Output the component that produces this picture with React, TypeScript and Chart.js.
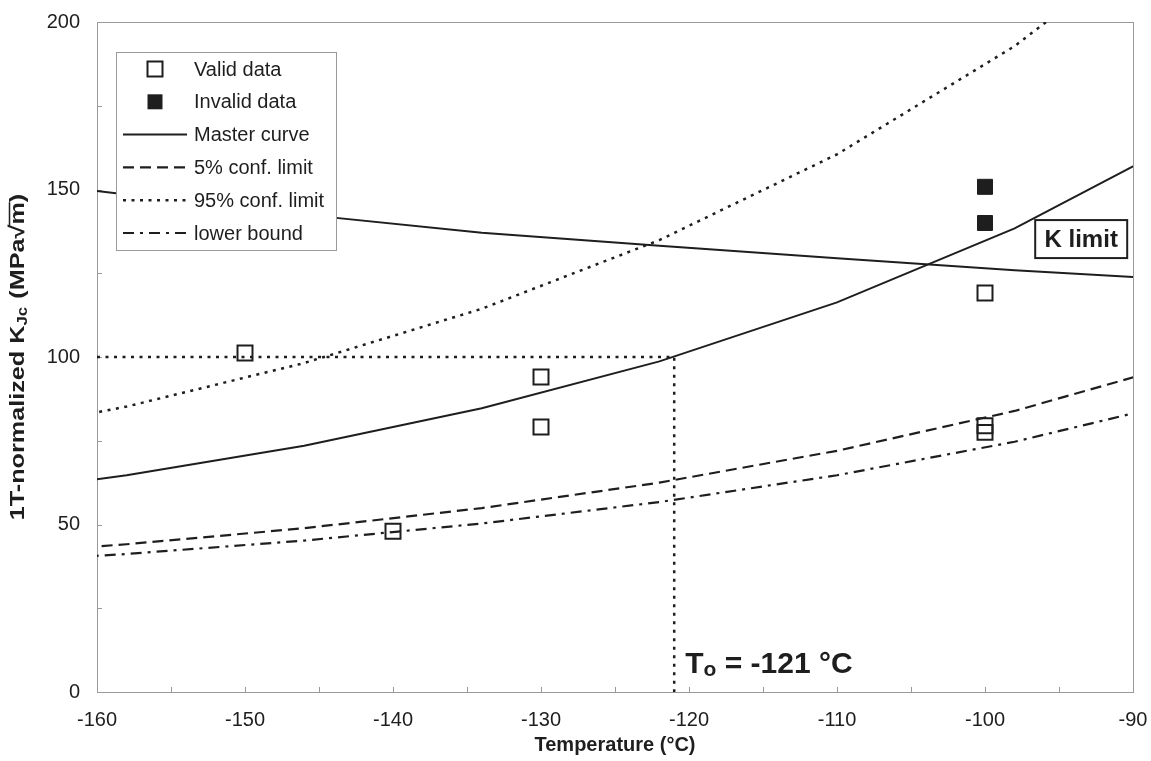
import React, { useEffect, useRef } from 'react';
import { Chart, registerables } from 'chart.js';

Chart.register(...registerables);

// ---- data ----
const curveTemps = [-170, -158, -146, -134, -122, -110, -98, -86];
const masterCurve = [57.6, 64.7, 73.5, 84.7, 98.7, 116.3, 138.4, 166.1];
const conf5 = [40.3, 44.1, 48.9, 54.9, 62.5, 72.0, 83.9, 98.9];
const conf95 = [74.9, 85.2, 98.2, 114.4, 134.9, 160.5, 192.8, 233.3];
const lowerBound = [37.9, 41.2, 45.2, 50.3, 56.7, 64.7, 74.7, 87.4];
const kLimit = [154.8, 148.5, 142.5, 137.1, 133.2, 129.5, 125.9, 122.9];

const validT = [-150, -140, -130, -130, -100, -100, -100];
const validK = [101.2, 48.0, 94.0, 79.1, 119.1, 79.5, 77.5];
const invalidT = [-100, -100];
const invalidK = [150.8, 140.0];

const T0 = -121;
const K_REF = 100;
const X_MIN = -160;
const X_MAX = -90;
const Y_MIN = 0;
const Y_MAX = 200;

const legendLabels = ['Valid data', 'Invalid data', 'Master curve', '5% conf. limit', '95% conf. limit', 'lower bound'];

const FONT = "'Liberation Sans', Arial, Helvetica, sans-serif";
const INK = '#1e1e1e';
const FRAME = '#9a9a9a';

const pts = (xs: number[], ys: number[]) => xs.map((x, i) => ({ x, y: ys[i] }));

const framePlugin = {
  id: 'frameAndTicks',
  beforeDatasetsDraw(chart: any) {
    const { ctx, chartArea: a, scales } = chart;
    const xs = scales.x;
    const ys = scales.y;
    ctx.save();
    ctx.strokeStyle = FRAME;
    ctx.lineWidth = 1;
    ctx.strokeRect(Math.round(a.left) + 0.5, Math.round(a.top) + 0.5, Math.round(a.right - a.left), Math.round(a.bottom - a.top));
    ctx.beginPath();
    for (let v = Y_MIN; v <= Y_MAX; v += 25) {
      const y = Math.round(ys.getPixelForValue(v)) + 0.5;
      ctx.moveTo(a.left, y);
      ctx.lineTo(a.left + 5, y);
    }
    for (let v = X_MIN; v <= X_MAX; v += 5) {
      const x = Math.round(xs.getPixelForValue(v)) + 0.5;
      ctx.moveTo(x, a.bottom);
      ctx.lineTo(x, a.bottom - 5);
    }
    ctx.stroke();
    ctx.restore();
  },
};

const annotationPlugin = {
  id: 'annotations',
  afterDatasetsDraw(chart: any) {
    const { ctx, chartArea: a, scales } = chart;
    const xs = scales.x;
    const ys = scales.y;
    const dsets = chart.data.datasets;
    ctx.save();

    // legend box
    const lx = a.left + 19;
    const ly = a.top + 30;
    const lw = 220;
    const lh = 198;
    ctx.fillStyle = '#ffffff';
    ctx.fillRect(lx, ly, lw, lh);
    ctx.strokeStyle = FRAME;
    ctx.lineWidth = 1;
    ctx.strokeRect(Math.round(lx) + 0.5, Math.round(ly) + 0.5, lw, lh);
    ctx.font = `20px ${FONT}`;
    ctx.textBaseline = 'middle';
    ctx.textAlign = 'left';
    for (let i = 0; i < legendLabels.length; i++) {
      const ds = dsets[i];
      const cy = ly + 17 + i * 32.8;
      const symX0 = lx + 7;
      const symX1 = lx + 71;
      const symC = lx + 39;
      ctx.save();
      if (i < 2) {
        const s = 15;
        ctx.lineWidth = 2;
        ctx.strokeStyle = INK;
        if (i === 1) {
          ctx.fillStyle = INK;
          ctx.fillRect(symC - s / 2, cy - s / 2, s, s);
        } else {
          ctx.strokeRect(symC - s / 2, cy - s / 2, s, s);
        }
      } else {
        ctx.strokeStyle = ds.borderColor;
        ctx.lineWidth = ds.borderWidth;
        ctx.setLineDash(ds.borderDash || []);
        ctx.beginPath();
        ctx.moveTo(symX0, cy);
        ctx.lineTo(symX1, cy);
        ctx.stroke();
      }
      ctx.restore();
      ctx.fillStyle = INK;
      ctx.fillText(legendLabels[i], lx + 78, cy + 1);
    }

    // K limit box
    const kx = xs.getPixelForValue(-93.5);
    const ky = ys.getPixelForValue(135.2);
    ctx.fillStyle = '#ffffff';
    ctx.fillRect(kx - 46, ky - 19, 92, 38);
    ctx.strokeStyle = INK;
    ctx.lineWidth = 2;
    ctx.strokeRect(kx - 46, ky - 19, 92, 38);
    ctx.fillStyle = INK;
    ctx.font = `bold 24px ${FONT}`;
    ctx.textAlign = 'center';
    ctx.textBaseline = 'middle';
    ctx.fillText('K limit', kx, ky + 1);

    // T0 label
    const tx = xs.getPixelForValue(T0) + 11;
    const ty = ys.getPixelForValue(5.7);
    ctx.textAlign = 'left';
    ctx.textBaseline = 'alphabetic';
    ctx.font = `bold 30px ${FONT}`;
    ctx.fillText('T', tx, ty);
    let w = ctx.measureText('T').width;
    ctx.font = `bold 21px ${FONT}`;
    ctx.fillText('o', tx + w, ty + 3);
    w += ctx.measureText('o').width;
    ctx.font = `bold 30px ${FONT}`;
    ctx.fillText(' = -121 °C', tx + w, ty);

    ctx.restore();
  },
  afterDraw(chart: any) {
    const { ctx, chartArea: a } = chart;
    ctx.save();
    ctx.translate(18, (a.top + a.bottom) / 2);
    ctx.rotate(-Math.PI / 2);
    ctx.scale(1.2, 1);
    const big = `bold 21px ${FONT}`;
    const small = `bold 14px ${FONT}`;
    const p1 = '1T-normalized K';
    const p2 = 'Jc';
    const p3 = ' (MPa√m)';
    ctx.font = big;
    const w1 = ctx.measureText(p1).width;
    const w3 = ctx.measureText(p3).width;
    const wm = ctx.measureText('m)').width;
    const wp = ctx.measureText(')').width;
    ctx.font = small;
    const w2 = ctx.measureText(p2).width + 1;
    const total = w1 + w2 + w3;
    let x = -total / 2;
    ctx.fillStyle = INK;
    ctx.textBaseline = 'middle';
    ctx.textAlign = 'left';
    ctx.font = big;
    ctx.fillText(p1, x, 0);
    x += w1;
    ctx.font = small;
    ctx.fillText(p2, x, 5);
    x += w2;
    ctx.font = big;
    ctx.fillText(p3, x, 0);
    // overline of the root sign over m
    const mStart = x + w3 - wm;
    const mEnd = x + w3 - wp;
    ctx.strokeStyle = INK;
    ctx.lineWidth = 1.5;
    ctx.beginPath();
    ctx.moveTo(mStart - 1, -8.5);
    ctx.lineTo(mEnd, -8.5);
    ctx.stroke();
    ctx.restore();
  },
};

export default function App() {
  const ref = useRef<HTMLCanvasElement>(null);

  useEffect(() => {
    const canvas = ref.current;
    if (!canvas) return;
    Chart.defaults.font.family = FONT;
    Chart.defaults.color = INK;

    const lineDs = (label: string, ys: number[], dash: number[], width: number) => ({
      label,
      data: pts(curveTemps, ys),
      showLine: true,
      borderColor: INK,
      backgroundColor: INK,
      borderWidth: width,
      borderDash: dash,
      pointRadius: 0,
      pointHoverRadius: 0,
      clip: 0,
      order: 5,
    });

    const chart = new Chart(canvas, {
      type: 'scatter',
      data: {
        datasets: [
          {
            label: 'Valid data',
            data: pts(validT, validK),
            pointStyle: 'rect',
            pointRadius: 10.6,
            pointBorderWidth: 2,
            borderColor: INK,
            backgroundColor: 'rgba(0,0,0,0)',
            showLine: false,
            order: 0,
          },
          {
            label: 'Invalid data',
            data: pts(invalidT, invalidK),
            pointStyle: 'rect',
            pointRadius: 10.6,
            pointBorderWidth: 1,
            borderColor: INK,
            backgroundColor: INK,
            showLine: false,
            order: 0,
          },
          lineDs('Master curve', masterCurve, [], 2),
          lineDs('5% conf. limit', conf5, [11, 6], 2.2),
          lineDs('95% conf. limit', conf95, [3, 5.5], 2.5),
          lineDs('lower bound', lowerBound, [11, 6, 3, 6], 2.2),
          lineDs('K limit', kLimit, [], 2),
          {
            label: 'T0 reference',
            data: [
              { x: X_MIN, y: K_REF },
              { x: T0, y: K_REF },
              { x: T0, y: Y_MIN },
            ],
            showLine: true,
            borderColor: INK,
            borderWidth: 2.5,
            borderDash: [3, 5.5],
            pointRadius: 0,
            pointHoverRadius: 0,
            clip: 0,
            order: 6,
          },
        ],
      },
      options: {
        responsive: false,
        devicePixelRatio: 1,
        animation: false,
        events: [],
        layout: { padding: { top: 22, right: 18, left: 0, bottom: 0 } },
        plugins: {
          legend: { display: false },
          tooltip: { enabled: false },
        },
        scales: {
          x: {
            type: 'linear',
            min: X_MIN,
            max: X_MAX,
            grid: { display: false, drawTicks: false },
            border: { display: false },
            ticks: { stepSize: 10, padding: 16, font: { size: 20 }, color: INK },
            title: {
              display: true,
              text: 'Temperature (°C)',
              font: { size: 20, weight: 'bold' },
              color: INK,
              padding: { top: 0, bottom: 4 },
            },
            afterFit: (s: any) => {
              s.height = 69;
              s.paddingLeft = 0;
              s.paddingRight = 0;
            },
          },
          y: {
            type: 'linear',
            min: Y_MIN,
            max: Y_MAX,
            grid: { display: false, drawTicks: false },
            border: { display: false },
            ticks: { stepSize: 50, padding: 17, font: { size: 20 }, color: INK },
            afterFit: (s: any) => {
              s.width = 97;
              s.paddingTop = 0;
              s.paddingBottom = 0;
            },
          },
        },
      },
      plugins: [framePlugin, annotationPlugin],
    } as any);

    return () => chart.destroy();
  }, []);

  return (
    <div style={{ position: 'absolute', left: 0, top: 0, width: 1151, height: 761, background: '#fff' }}>
      <canvas ref={ref} width={1151} height={761} />
    </div>
  );
}
